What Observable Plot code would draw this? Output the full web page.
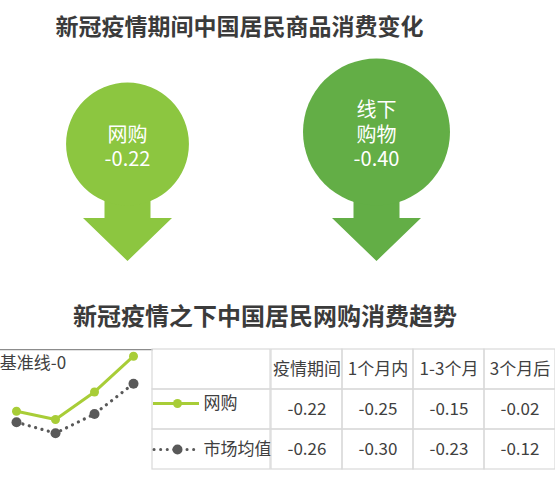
<!DOCTYPE html>
<html><head><meta charset="utf-8">
<script src="https://cdn.jsdelivr.net/npm/d3@7"></script>
<script src="https://cdn.jsdelivr.net/npm/@observablehq/plot@0.6"></script>
<style>
body{margin:0;background:#fff;}
#root{position:relative;width:555px;height:481px;overflow:hidden;font-family:"Noto Sans CJK SC","Noto Sans",sans-serif;background:#fff;}
.abs{position:absolute;}
.title{position:absolute;font-weight:bold;color:#3b3b3b;white-space:nowrap;line-height:1;transform:translate(-50%,-50%);}
</style></head><body><div id="root"></div>
<script>
// ---- data ----
const title1 = "新冠疫情期间中国居民商品消费变化";
const title2 = "新冠疫情之下中国居民网购消费趋势";
const bubbleNames = ["网购", "线下购物"];
const bubbleLabels = ["网购", "线下\n购物"];
const bubbleValues = [-0.22, -0.40];
const periods = ["疫情期间", "1个月内", "1-3个月", "3个月后"];
const seriesNames = ["网购", "市场均值"];
const onlineValues = [-0.22, -0.25, -0.15, -0.02];
const marketValues = [-0.26, -0.30, -0.23, -0.12];
const baselineLabel = "基准线-0";

// ---- styles ----
const fontFamily = "'Noto Sans CJK SC', 'Noto Sans', sans-serif";
const bubbleColors = ["#8cc640", "#63ae46"];
const lineGreen = "#a8cd37";
const darkGray = "#595959";
const gridColor = "#d9d9d9";
const textColor = "#404040";
const baseStyle = {background: "transparent", overflow: "visible", fontFamily, color: textColor};

const root = document.getElementById("root");
function mount(node, left, top) {
  const d = document.createElement("div");
  d.className = "abs";
  d.style.left = left + "px";
  d.style.top = top + "px";
  d.appendChild(node);
  root.appendChild(d);
}
function addTitle(text, cx, cy, size) {
  const t = document.createElement("div");
  t.className = "title";
  t.textContent = text;
  t.style.left = cx + "px";
  t.style.top = cy + "px";
  t.style.fontSize = size + "px";
  root.appendChild(t);
}

// ---- bubbles with arrows ----
const bubbles = bubbleNames.map((name, i) => ({name, label: bubbleLabels[i], value: bubbleValues[i]}));
const bubbleSymbol = {draw(ctx, size) {
  const r = Math.sqrt(size / Math.PI);
  ctx.moveTo(r, -r);
  ctx.arc(0, -r, r, 0, 2 * Math.PI);
  ctx.closePath();
}};
const arrowSymbol = {draw(ctx) {
  ctx.moveTo(-23, -30); ctx.lineTo(23, -30); ctx.lineTo(23, 12.5);
  ctx.lineTo(44.5, 12.5); ctx.lineTo(0, 55.5); ctx.lineTo(-44.5, 12.5);
  ctx.lineTo(-23, 12.5); ctx.closePath();
}};
const bubblePlot = Plot.plot({
  width: 555, height: 270, marginLeft: 0, marginRight: 0, marginTop: 0, marginBottom: 65,
  x: {type: "point", domain: bubbleNames, range: [126.5, 375.5], padding: 0, axis: null},
  r: {type: "pow", exponent: 0.3, domain: [0, 0.4], range: [0, 73.5]},
  color: {domain: bubbleNames, range: bubbleColors},
  style: baseStyle,
  marks: [
    Plot.dot(bubbles, {x: "name", frameAnchor: "bottom", r: 1, symbol: arrowSymbol, fill: "name"}),
    Plot.dot(bubbles, {x: "name", frameAnchor: "bottom", r: d => Math.abs(d.value), symbol: bubbleSymbol, fill: "name"}),
    Plot.text(bubbles, {x: "name", frameAnchor: "bottom", text: d => d.label + "\n" + d.value.toFixed(2),
      lineAnchor: "bottom", lineHeight: 1.22, dy: -39.5, fill: "white", fontSize: 20})
  ]
});
mount(bubblePlot, 0, 0);
addTitle(title1, 239.5, 25, 23);
addTitle(title2, 265, 315, 24);

// ---- line chart ----
const online = periods.map((p, i) => ({period: p, value: onlineValues[i]}));
const market = periods.map((p, i) => ({period: p, value: marketValues[i]}));
const linePlot = Plot.plot({
  width: 153, height: 141, margin: 0,
  x: {type: "point", domain: periods, range: [15.7, 134], padding: 0, axis: null},
  y: {domain: [-0.4, 0], range: [120.2, 10.2], axis: null},
  style: baseStyle,
  marks: [
    Plot.ruleY([0], {stroke: "#8c8c8c", strokeWidth: 1.3, dy: -1}),
    Plot.text([baselineLabel], {x: () => periods[0], y: () => 0, text: d => d, textAnchor: "start",
      dx: -16.7, dy: 13, fill: textColor, fontSize: 17}),
    Plot.line(online, {x: "period", y: "value", stroke: lineGreen, strokeWidth: 3}),
    Plot.line(market, {x: "period", y: "value", stroke: darkGray, strokeWidth: 3.2,
      strokeDasharray: "0.1 6.5", strokeLinecap: "round"}),
    Plot.dot(online, {x: "period", y: "value", r: 4.5, fill: lineGreen}),
    Plot.dot(market, {x: "period", y: "value", r: 5, fill: darkGray})
  ]
});
mount(linePlot, 0, 340);

// ---- table ----
const rowKeys = ["header", ...seriesNames];
const legendPlot = Plot.plot({
  width: 118, height: 141, margin: 0,
  y: {type: "band", domain: rowKeys, range: [9, 129], padding: 0, axis: null},
  style: baseStyle,
  marks: [
    Plot.cell(rowKeys, {y: d => d, fill: "none", stroke: gridColor, strokeWidth: 1.2}),
    Plot.ruleY([seriesNames[0]], {y: d => d, stroke: lineGreen, strokeWidth: 3, insetLeft: 1, insetRight: 71, dy: -6}),
    Plot.dot([seriesNames[0]], {y: d => d, frameAnchor: "left", dx: 25, dy: -6, r: 4.5, fill: lineGreen}),
    Plot.ruleY([seriesNames[1]], {y: d => d, stroke: darkGray, strokeWidth: 3, insetLeft: 2, insetRight: 71,
      strokeDasharray: "0.1 6.5", strokeLinecap: "round"}),
    Plot.dot([seriesNames[1]], {y: d => d, frameAnchor: "left", dx: 25, r: 5, fill: darkGray}),
    Plot.text([seriesNames[0]], {y: d => d, text: d => d, frameAnchor: "left", textAnchor: "start", dx: 51, dy: -6, fill: textColor, fontSize: 17}),
    Plot.text([seriesNames[1]], {y: d => d, text: d => d, frameAnchor: "left", textAnchor: "start", dx: 51, fill: textColor, fontSize: 17})
  ]
});
mount(legendPlot, 152, 340);

const cells = [];
periods.forEach((p, i) => {
  cells.push({period: p, row: "header", text: p});
  cells.push({period: p, row: seriesNames[0], text: onlineValues[i].toFixed(2)});
  cells.push({period: p, row: seriesNames[1], text: marketValues[i].toFixed(2)});
});
const tablePlot = Plot.plot({
  width: 285, height: 141, margin: 0,
  x: {type: "band", domain: periods, range: [0, 285], padding: 0, axis: null},
  y: {type: "band", domain: rowKeys, range: [9, 129], padding: 0, axis: null},
  style: baseStyle,
  marks: [
    Plot.cell(cells, {x: "period", y: "row", fill: "none", stroke: gridColor, strokeWidth: 1.2}),
    Plot.text(cells, {x: "period", y: "row", text: "text", fill: textColor, fontSize: 17})
  ]
});
mount(tablePlot, 270, 340);
</script></body></html>
